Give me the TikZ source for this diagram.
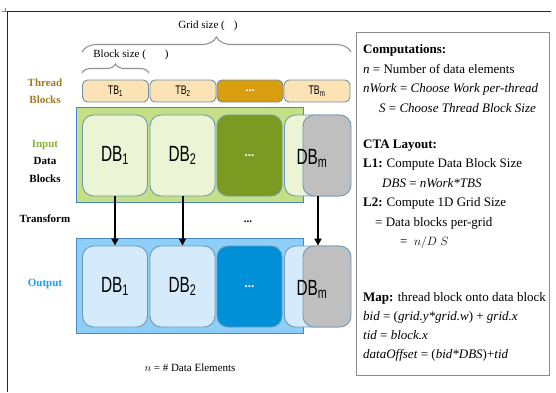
\documentclass[tikz,border=0pt]{standalone}
\usepackage{fontspec}
\setmainfont{Liberation Serif}
\newfontfamily\dbfont[FakeStretch=0.7]{Liberation Sans}
\usetikzlibrary{arrows.meta, positioning, decorations.pathreplacing}

\definecolor{tbfill}{HTML}{FBE3B5}
\definecolor{tbline}{HTML}{6F8FA5}
\definecolor{tbdark}{HTML}{D99E10}
\definecolor{tbtext}{HTML}{A07B20}
\definecolor{bandgreen}{HTML}{C4DF85}
\definecolor{bandblue}{HTML}{8DCFF8}
\definecolor{bandline}{HTML}{4A88C0}
\definecolor{ingreen}{HTML}{EBF5D5}
\definecolor{indark}{HTML}{7A9A22}
\definecolor{outblue}{HTML}{D5EBFB}
\definecolor{outdark}{HTML}{0090D8}
\definecolor{dbline}{HTML}{6E98B5}
\definecolor{dbgray}{HTML}{BFBFBF}
\definecolor{inlabel}{HTML}{8AB03A}
\definecolor{outlabel}{HTML}{1AA0E8}
\definecolor{panelline}{HTML}{8C8C8C}

\begin{document}
\begin{tikzpicture}[
    x=1pt, y=-1pt,
    tb/.style = {
        rectangle,
        rounded corners=5pt,
        draw=tbline,
        fill=tbfill,
        line width=0.9pt,
        minimum width=66pt,
        minimum height=22pt,
        inner sep=0pt,
        font=\dbfont\fontsize{12.5}{12.5}\selectfont
    },
    tbdots/.style = {tb, fill=tbdark, text=white, font=\bfseries\fontsize{12}{12}\selectfont},
    db/.style = {
        rectangle,
        rounded corners=11pt,
        draw=dbline,
        line width=0.9pt,
        minimum width=65pt,
        minimum height=81pt,
        inner sep=0pt,
        font=\dbfont\fontsize{22}{22}\selectfont
    },
    indb/.style = {db, fill=ingreen},
    outdb/.style = {db, fill=outblue},
    dotsdb/.style = {db, text=white, font=\bfseries\fontsize{13}{13}\selectfont},
    graydb/.style = {db, fill=dbgray, minimum width=48pt},
    dblabel/.style = {inner sep=0pt, font=\dbfont\fontsize{22}{22}\selectfont},
    band/.style = {rectangle, draw=bandline, line width=0.9pt, minimum width=227pt, minimum height=95pt, inner sep=0pt},
    rowlabel/.style = {font=\bfseries\fontsize{11}{17.5}\selectfont, align=center},
    arrow/.style = {line width=2pt, -{Triangle[length=7pt,width=7pt]}},
    brace/.style = {decorate, draw=gray!85, line width=1.1pt, decoration={brace, amplitude=#1}},
    note/.style = {anchor=base west, inner sep=0pt, font=\fontsize{13}{13}\selectfont}
]
    \useasboundingbox (0,0) rectangle (556,392);

    % frame
    \draw[line width=1pt, black!85] (7,392) -- (7,11) -- (551,11);
    \draw[gray, line width=0.5pt] (2,11) -- (7,11) (5,8) -- (5,11);

    % === SIZES ===
    \node[font=\fontsize{11}{11}\selectfont] (gridtxt) at (208,26) {Grid size (\hspace{9pt})};
    \draw[brace=15pt] (82,52) -- (351,52);
    \node[font=\fontsize{11}{11}\selectfont] (blocktxt) at (131,55) {Block size (\hspace{19pt})};
    \draw[brace=9pt] (82,73) -- (149,73);

    % === THREAD BLOCKS ===
    \node[rowlabel, text=tbtext] (tblbl) at (45,91) {Thread\\Blocks};
    \node[tb] (tb1) at (115.5,91) {TB\textsubscript{1}};
    \node[tb] (tb2) at (183,91) {TB\textsubscript{2}};
    \node[tbdots] (tbd) at (250,91) {...};
    \node[tb] (tbm) at (317,91) {TB\textsubscript{m}};

    % === INPUT DATA BLOCKS ===
    \node[rowlabel] (inlbl) at (45,161) {\textcolor{inlabel}{Input}\\Data\\Blocks};
    \node[band, fill=bandgreen] (inband) at (189.5,154.5) {};
    \node[indb] (in1) at (115,155.5) {DB\textsubscript{1}};
    \node[indb] (in2) at (182.5,155.5) {DB\textsubscript{2}};
    \node[dotsdb, fill=indark] (ind) at (249.5,155.5) {...};
    \node[indb] (in4) at (317,155.5) {};
    \node[graydb] (inm) at (327,155.5) {};
    \node[dblabel] (inmlbl) at (312,158) {DB\textsubscript{m}};

    % === TRANSFORM ===
    \node[rowlabel] (trlbl) at (45,219) {Transform};
    \node[font=\bfseries\fontsize{11}{11}\selectfont] (trdots) at (248,222) {...};

    % === OUTPUT DATA BLOCKS ===
    \node[rowlabel, text=outlabel] (outlbl) at (45,284) {Output};
    \node[band, fill=bandblue] (outband) at (189.5,285.5) {};
    \node[outdb] (out1) at (115,286.5) {DB\textsubscript{1}};
    \node[outdb] (out2) at (182.5,286.5) {DB\textsubscript{2}};
    \node[dotsdb, fill=outdark] (outd) at (249.5,286.5) {...};
    \node[outdb] (out4) at (317,286.5) {};
    \node[graydb] (outm) at (327,286.5) {};
    \node[dblabel] (outmlbl) at (312,289) {DB\textsubscript{m}};

    \draw[arrow] (in1) -- (out1);
    \draw[arrow] (in2) -- (out2);
    \draw[arrow] ([xshift=-9pt]inm.south) -- ([xshift=-9pt]outm.north);

    \node[font=\fontsize{11}{11}\selectfont] (ntxt) at (190,368) {$n$ = \# Data Elements};

    % === COMPUTATIONS PANEL ===
    \node[rectangle, draw=panelline, line width=0.9pt, minimum width=193pt, minimum height=343pt, inner sep=0pt] (panel) at (452.5,203.5) {};
    \node[note] (comp) at (363,53) {\textbf{Computations:}};
    \node[note] (nline) at (363,73) {\textit{n} = Number of data elements};
    \node[note] (nwork) at (363,92) {\textit{nWork} = \textit{Choose Work per-thread}};
    \node[note] (tbs) at (379,112) {\textit{S} = \textit{Choose Thread Block Size}};
    \node[note] (cta) at (363,148) {\textbf{CTA Layout:}};
    \node[note] (lone) at (363,167) {\textbf{L1:}\hspace{4pt}Compute Data Block Size};
    \node[note] (dbs) at (382,187) {\textit{DBS} = \textit{nWork*TBS}};
    \node[note] (ltwo) at (363,206) {\textbf{L2:}\hspace{4pt}Compute 1D Grid Size};
    \node[note] (dpg) at (375,226) {= Data blocks per-grid};
    \node[note] (ndiv) at (400,245) {=\ \ $n/D\ S$};
    \node[note] (map) at (363,301) {\textbf{Map:} thread block onto data block};
    \node[note] (bid) at (363,320) {\textit{bid} = (\textit{grid.y*grid.w}) + \textit{grid.x}};
    \node[note] (tid) at (363,339) {\textit{tid} = \textit{block.x}};
    \node[note] (doff) at (363,358) {\textit{dataOffset} = (\textit{bid*DBS})+\textit{tid}};

\end{tikzpicture}
\end{document}
